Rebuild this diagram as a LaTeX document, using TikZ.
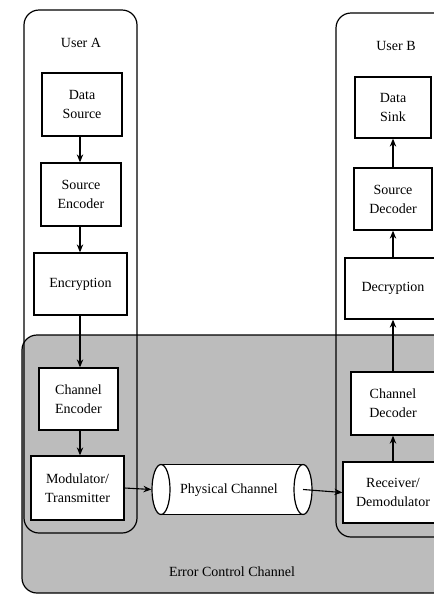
\documentclass[tikz,border=0pt]{standalone}
\usepackage{fontspec}
\setmainfont{Liberation Serif}
\usetikzlibrary{arrows.meta,shapes.geometric}
\definecolor{ecshade}{RGB}{188,188,188}
\tikzset{
  blk/.style={draw, line width=1.3pt, fill=white, align=center, inner sep=0pt,
              font=\fontsize{14}{19}\selectfont},
  usr/.style={draw, line width=1.2pt, rounded corners=15pt},
  flow/.style={line width=1.1pt, -{Stealth[length=8pt,width=6.5pt]}},
  lbl/.style={font=\fontsize{14}{19}\selectfont, inner sep=0pt},
  tubeend/.style={ellipse, draw, line width=1.2pt, fill=white, inner sep=0pt,
                  minimum width=18pt, minimum height=50pt}
}
\begin{document}
\begin{tikzpicture}[x=1pt,y=-1pt]
\useasboundingbox (0,0) rectangle (434,598);
\clip (0,0) rectangle (434,598);
\fill[white] (0,0) rectangle (434,598);

% shaded error-control region
\draw[usr, fill=ecshade] (22,335) rectangle (480,593);
\node[lbl] (ecc) at (232,572) {Error Control Channel};

% user enclosures
\draw[usr] (24,10) rectangle (137,533);
\draw[usr] (336,13) rectangle (480,537);
\node[lbl] (ua) at (81,43) {User A};
\node[lbl] (ub) at (396,46) {User B};

% transmitter chain
\node[blk, minimum width=80pt, minimum height=63pt] (dsrc) at (82,104.5) {Data\\Source};
\node[blk, minimum width=80pt, minimum height=63pt] (senc) at (81,194.5) {Source\\Encoder};
\node[blk, minimum width=93pt, minimum height=62pt] (encr) at (80.5,284) {Encryption};
\node[blk, minimum width=79pt, minimum height=62pt] (cenc) at (78.5,399) {Channel\\Encoder};
\node[blk, minimum width=93pt, minimum height=64pt] (mod) at (77.5,488) {Modulator/\\Transmitter};

% receiver chain
\node[blk, minimum width=76pt, minimum height=61pt] (dsink) at (393,107.5) {Data\\Sink};
\node[blk, minimum width=78pt, minimum height=62pt] (sdec) at (393,199) {Source\\Decoder};
\node[blk, minimum width=96pt, minimum height=61pt] (decr) at (393,288.5) {Decryption};
\node[blk, minimum width=84pt, minimum height=63pt] (cdec) at (393,403.5) {Channel\\Decoder};
\node[blk, minimum width=100pt, minimum height=61pt] (recv) at (393,492.5) {Receiver/\\Demodulator};

% physical channel tube
\fill[white] (161,464.5) rectangle (303,514.5);
\draw[line width=1.2pt] (161,464.5) -- (303,464.5) (161,514.5) -- (303,514.5);
\node[tubeend] (lend) at (161,489.5) {};
\node[tubeend] (rend) at (303,489.5) {};
\node[lbl] (phys) at (229,490) {Physical Channel};

% signal flow
\coordinate (ax) at (80,0);
\draw[flow] (dsrc.south -| ax) -- (senc.north -| ax);
\draw[flow] (senc.south -| ax) -- (encr.north -| ax);
\draw[flow] (encr.south -| ax) -- (cenc.north -| ax);
\draw[flow] (cenc.south -| ax) -- (mod.north -| ax);
\draw[flow] (mod.east) -- (lend.west);
\draw[flow] (rend.center) -- (recv.west);
\draw[flow] (recv) -- (cdec);
\draw[flow] (cdec) -- (decr);
\draw[flow] (decr) -- (sdec);
\draw[flow] (sdec) -- (dsink);
\end{tikzpicture}
\end{document}
